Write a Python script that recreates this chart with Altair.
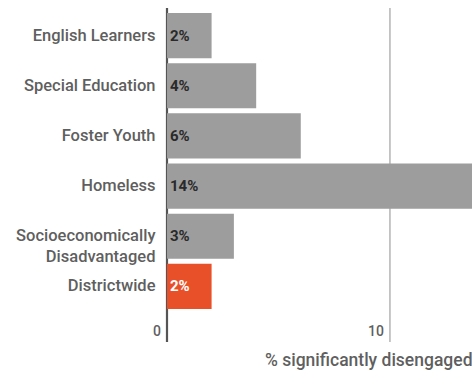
import altair as alt
import pandas as pd

categories = ["English Learners", "Special Education", "Foster Youth", "Homeless",
              "Socioeconomically Disadvantaged", "Districtwide"]
values = [2, 4, 6, 14, 3, 2]
labels = ["2%", "4%", "6%", "14%", "3%", "2%"]
highlight = [False, False, False, False, False, True]
tick_values = [0, 10]
tick_labels = ["0", "10"]

df = pd.DataFrame({"group": categories, "value": values, "label": labels, "hl": highlight})
ticks = pd.DataFrame({"t": tick_values, "tl": tick_labels, "zero": [v == 0 for v in tick_values]})

FONT = "Roboto"
GRAY_TXT = "#5f5f5f"
H = 306
FULL = 334

xscale = alt.Scale(domain=[0, 13.68], nice=False, zero=True)

y = alt.Y("group:N", sort=categories, title=None,
          scale=alt.Scale(paddingInner=0.1, paddingOuter=0.1),
          axis=alt.Axis(domain=False, ticks=False, grid=False,
                        labelPadding=12, labelFontSize=16.5, labelFont=FONT, labelFontWeight=500,
                        labelColor=GRAY_TXT, labelLineHeight=21,
                        labelExpr="datum.label == 'Socioeconomically Disadvantaged' ? ['Socioeconomically', 'Disadvantaged'] : datum.label"))

x = alt.X("value:Q", title="% significantly disengaged", scale=xscale,
          axis=alt.Axis(grid=False, domain=False, ticks=False, labels=False,
                        titleFont=FONT, titleFontSize=17.5, titleFontWeight=500,
                        titleColor=GRAY_TXT, titleAnchor="end", titleAlign="right",
                        titlePadding=37))

bars = alt.Chart(df).mark_bar().encode(
    y=y, x=x,
    color=alt.Color("hl:N", scale=alt.Scale(domain=[False, True], range=["#9d9d9d", "#e8502a"]), legend=None),
)

text = alt.Chart(df).mark_text(align="left", baseline="middle", dx=3, fontSize=15,
                               font=FONT, fontWeight="bold").encode(
    y=alt.Y("group:N", sort=categories),
    x=alt.datum(0),
    text="label:N",
    color=alt.Color("hl:N", scale=alt.Scale(domain=[False, True], range=["#2a2a2a", "#ffffff"]), legend=None),
)

rules = alt.Chart(ticks).mark_rule().encode(
    x=alt.X("t:Q", scale=xscale),
    y=alt.value(0), y2=alt.value(FULL),
    color=alt.Color("zero:N", scale=alt.Scale(domain=[False, True], range=["#a8a8a8", "#555555"]), legend=None),
    strokeWidth=alt.StrokeWidth("zero:N", scale=alt.Scale(domain=[False, True], range=[1.3, 2.2]), legend=None),
)

tick_text = alt.Chart(ticks).mark_text(align="right", baseline="middle", dx=-6, fontSize=14,
                                       font=FONT, fontWeight=500, color=GRAY_TXT).encode(
    x=alt.X("t:Q", scale=xscale),
    y=alt.value(FULL - 10),
    text="tl:N",
)

chart = alt.layer(rules, bars, text, tick_text).resolve_scale(color="independent").properties(
    width=305, height=H,
    autosize=alt.AutoSizeParams(type="none"),
    padding={"left": 167, "top": 8, "right": 0, "bottom": 59},
    view=alt.ViewBackground(stroke="transparent", strokeWidth=0),
).configure_view(stroke="transparent", strokeWidth=0, strokeOpacity=0).configure_axis(
    domain=False, grid=False, ticks=False
).configure(background="white")

chart.save("out.html", embed_options={"renderer": "svg", "actions": False})
